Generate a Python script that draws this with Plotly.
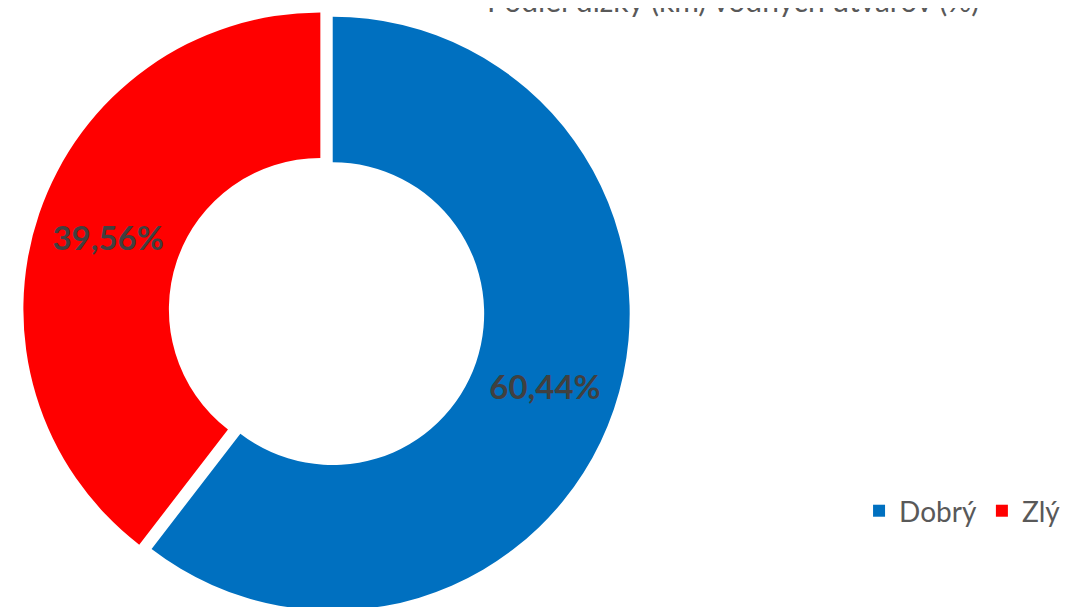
import plotly.graph_objects as go

categories = ["Dobrý", "Zlý"]
values = [60.44, 39.56]
colors = ["#0070C0", "#FF0000"]
title_text = "Podiel dĺžky (km) vodných útvarov (%)"

fig = go.Figure()
fig.add_trace(go.Pie(
    labels=categories,
    values=values,
    hole=0.51,
    sort=False,
    direction="clockwise",
    rotation=0,
    pull=[0.022, 0.022],
    marker=dict(colors=colors, line=dict(color="white", width=0)),
    texttemplate="%{percent:.2%}",
    textposition="inside",
    insidetextorientation="horizontal",
    textfont=dict(family="Lato", size=33, color="#404040", weight="bold"),
    domain=dict(x=[0, 0.585], y=[0, 1]),
    hoverinfo="label+percent",
))

fig.update_layout(
    width=1089,
    height=607,
    margin=dict(l=0, r=0, t=0, b=0),
    paper_bgcolor="white",
    separators=", ",
    showlegend=True,
    legend=dict(
        orientation="h",
        x=0.7815, y=0.1713,
        xanchor="left", yanchor="middle",
        font=dict(family="Lato", size=28, color="#595959"),
        itemwidth=30,
    ),
    annotations=[dict(
        text=title_text,
        xref="paper", yref="paper",
        x=0.666, y=1,
        xanchor="center", yanchor="bottom",
        yshift=-12,
        showarrow=False,
        font=dict(family="Lato", size=30, color="#595959"),
    )],
)

fig.write_html("out.html")
